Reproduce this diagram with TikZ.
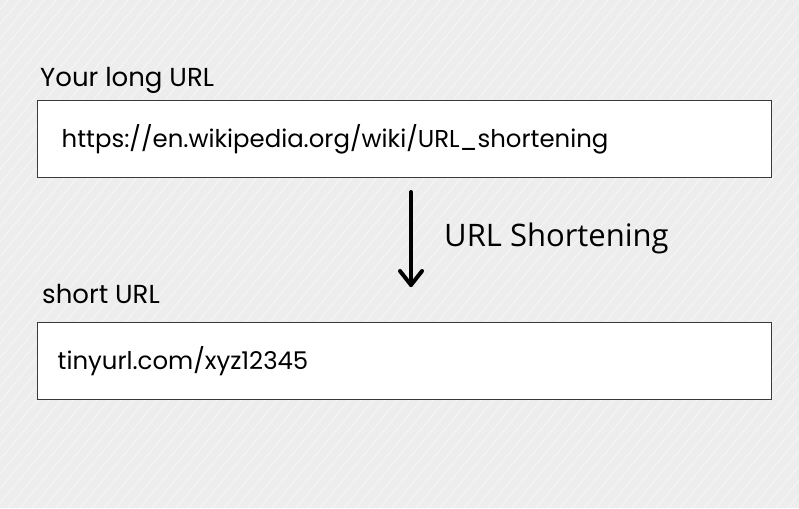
\documentclass[tikz,border=0pt]{standalone}
\usepackage{fontspec}
\setmainfont{Open Sans}
\newfontfamily\handfont{Poppins}
\usetikzlibrary{arrows.meta}
\definecolor{paper}{HTML}{EDEDED}
\definecolor{boxline}{HTML}{3A3A3A}
\tikzset{
  urlbox/.style={draw=boxline,line width=1.3pt,fill=white,anchor=north west,
    minimum height=77pt,inner xsep=24pt,text width=686pt,align=left,
    font=\handfont\fontsize{24.4}{30}\selectfont},
  handlabel/.style={anchor=base west,inner sep=0pt,
    font=\handfont\fontsize{26}{30}\selectfont},
  thickarrow/.style={line width=4pt,line cap=round,line join=round},
}
\begin{document}
\begin{tikzpicture}[x=1pt,y=-1pt]
    \fill[paper] (0,0) rectangle (799,508);
    \begin{scope}
        \clip (0,0) rectangle (799,508);
        \foreach \i in {-520,-508,...,800}
            \draw[white,line width=0.7pt,opacity=0.6] (\i,508) -- ++(420,-508);
        \foreach \i in {-514,-502,...,800}
            \draw[black!7,line width=0.4pt] (\i,508) -- ++(420,-508);
    \end{scope}
    \node[handlabel] (longlabel) at (40,87) {Your long URL};
    \node[urlbox] (longurl) at (37,100) {https://en.wikipedia.org/wiki/URL\_shortening};
    \coordinate (arrowtop) at (411,192);
    \coordinate (arrowtip) at (411,285);
    \draw[thickarrow] (arrowtop) -- (arrowtip);
    \draw[thickarrow] (arrowtip) ++(-11,-14) -- (arrowtip) -- ++(11,-14);
    \node[anchor=base west,inner sep=0pt,font=\fontsize{31}{36}\selectfont] (steplabel)
        at (444,246) {URL Shortening};
    \node[handlabel] (shortlabel) at (42,303) {short URL};
    \node[urlbox,inner xsep=20pt,text width=694pt] (shorturl) at (37,322) {tinyurl.com/xyz12345};
\end{tikzpicture}
\end{document}
